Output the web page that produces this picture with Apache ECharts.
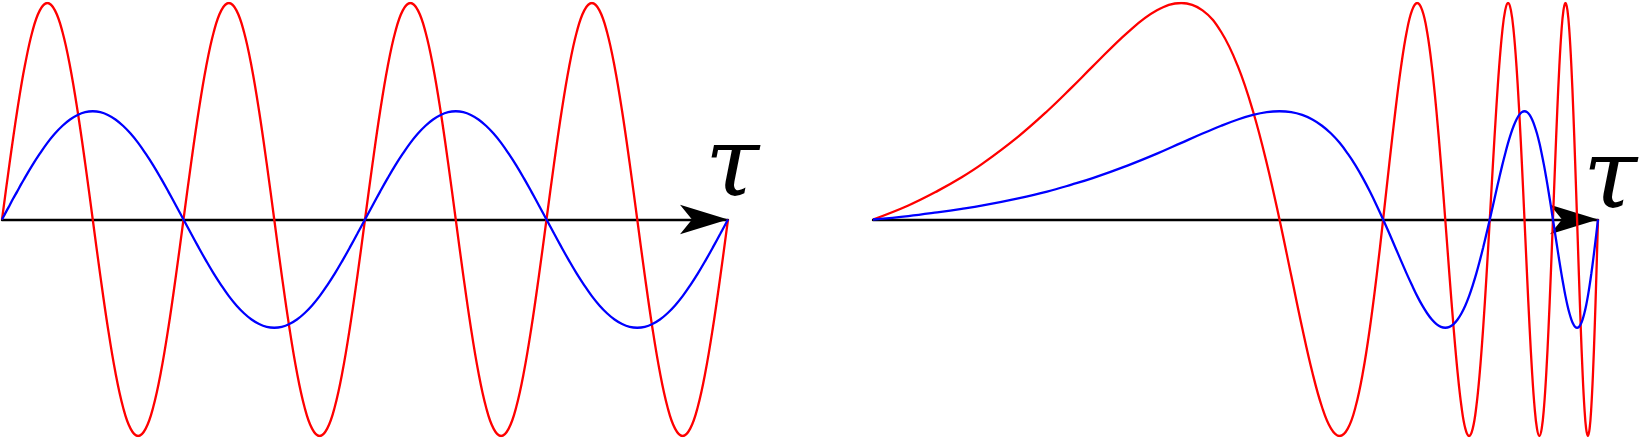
<head>
    <meta charset="utf-8">
    <title>tau</title>
    <script src="https://cdn.jsdelivr.net/npm/echarts@6/dist/echarts.min.js"></script>
    <style>
        html, body { margin: 0; padding: 0; background: #fff; }
    </style>
</head>

<body>
    <div id="main" style="width: 1644px; height: 441px;"></div>

    <script type="text/javascript">

        // sample positions along tau (left panel linear, right panel log)
        const tau = [1, 1.25, 1.5, 1.75, 2, 2.5, 3, 3.5,
            4, 5, 6, 7, 8, 9, 10, 11, 12, 13, 14, 15, 16, 17, 18, 19, 20,
            21, 22, 23, 24, 25, 26, 27, 28, 29, 30, 31, 32, 33, 34, 35, 36,
            37, 38, 39, 40, 41, 42, 43, 44, 45, 46, 47, 48, 49, 50, 51, 52,
            53, 54, 55, 56, 57, 58, 59, 60, 61, 62, 63, 64, 65, 66, 67, 68,
            69, 70, 71, 72, 73, 74, 75, 76, 77, 78, 79, 80, 81, 82, 83, 84,
            85, 86, 87, 88, 89, 90, 91, 92, 93, 94, 95, 96, 97]

        // red curve
        const red = [0, 0.065, 0.131, 0.195, 0.259, 0.383, 0.5, 0.609,
            0.707, 0.866, 0.966, 1, 0.966, 0.866, 0.707, 0.5, 0.259, 0, -0.259, -0.5, -0.707, -0.866, -0.966, -1, -0.966,
            -0.866, -0.707, -0.5, -0.259, 0, 0.259, 0.5, 0.707, 0.866, 0.966, 1, 0.966, 0.866, 0.707, 0.5, 0.259,
            0, -0.259, -0.5, -0.707, -0.866, -0.966, -1, -0.966, -0.866, -0.707, -0.5, -0.259, 0, 0.259, 0.5, 0.707,
            0.866, 0.966, 1, 0.966, 0.866, 0.707, 0.5, 0.259, 0, -0.259, -0.5, -0.707, -0.866, -0.966, -1, -0.966,
            -0.866, -0.707, -0.5, -0.259, 0, 0.259, 0.5, 0.707, 0.866, 0.966, 1, 0.966, 0.866, 0.707, 0.5, 0.259,
            0, -0.259, -0.5, -0.707, -0.866, -0.966, -1, -0.966, -0.866, -0.707, -0.5, -0.259, 0]

        // blue curve
        const blue = [0, 0.016, 0.033, 0.049, 0.065, 0.098, 0.129, 0.161,
            0.191, 0.25, 0.304, 0.354, 0.397, 0.433, 0.462, 0.483, 0.496, 0.5, 0.496, 0.483, 0.462, 0.433, 0.397, 0.354, 0.304,
            0.25, 0.191, 0.129, 0.065, 0, -0.065, -0.129, -0.191, -0.25, -0.304, -0.354, -0.397, -0.433, -0.462, -0.483, -0.496,
            -0.5, -0.496, -0.483, -0.462, -0.433, -0.397, -0.354, -0.304, -0.25, -0.191, -0.129, -0.065, 0, 0.065, 0.129, 0.191,
            0.25, 0.304, 0.354, 0.397, 0.433, 0.462, 0.483, 0.496, 0.5, 0.496, 0.483, 0.462, 0.433, 0.397, 0.354, 0.304,
            0.25, 0.191, 0.129, 0.065, 0, -0.065, -0.129, -0.191, -0.25, -0.304, -0.354, -0.397, -0.433, -0.462, -0.483, -0.496,
            -0.5, -0.496, -0.483, -0.462, -0.433, -0.397, -0.354, -0.304, -0.25, -0.191, -0.129, -0.065, 0]

        const axisName = 'τ'

        var myChart = echarts.init(document.getElementById('main'), null, { renderer: 'canvas' });

        const redPts = tau.map((t, i) => [t, red[i]])
        const bluePts = tau.map((t, i) => [t, blue[i]])

        const xCommon = {
            min: 1,
            max: 97,
            axisLabel: { show: false },
            axisTick: { show: false },
            splitLine: { show: false },
            axisLine: {
                show: true,
                symbol: ['none', 'arrow'],
                symbolSize: [22, 48],
                symbolOffset: [0, 0],
                lineStyle: { color: '#000', width: 2.4 }
            }
        }
        const yCommon = { type: 'value', min: -1, max: 1, show: false }

        const lineStyle = (c) => ({
            type: 'line',
            showSymbol: false,
            smooth: 0.4,
            animation: false,
            lineStyle: { color: c, width: 2.3 },
            itemStyle: { color: c }
        })

        option = {
            backgroundColor: '#fff',
            animation: false,
            grid: [
                { left: 2, width: 726, top: 3, height: 433 },
                { left: 873, width: 725, top: 3, height: 433 }
            ],
            xAxis: [
                Object.assign({ type: 'value', gridIndex: 0 }, xCommon),
                Object.assign({ type: 'log', logBase: 10, gridIndex: 1 }, xCommon)
            ],
            yAxis: [
                Object.assign({ gridIndex: 0 }, yCommon),
                Object.assign({ gridIndex: 1 }, yCommon)
            ],
            series: [
                Object.assign(lineStyle('#ff0000'), { xAxisIndex: 0, yAxisIndex: 0, data: redPts }),
                Object.assign(lineStyle('#0000ff'), { xAxisIndex: 0, yAxisIndex: 0, data: bluePts }),
                Object.assign(lineStyle('#ff0000'), { xAxisIndex: 1, yAxisIndex: 1, data: redPts }),
                Object.assign(lineStyle('#0000ff'), { xAxisIndex: 1, yAxisIndex: 1, data: bluePts })
            ],
            graphic: [
                {
                    type: 'text', left: 705, top: 122,
                    style: { text: axisName, font: 'italic 98px "DejaVu Serif"', fill: '#000' }
                },
                {
                    type: 'text', left: 1583, top: 134,
                    style: { text: axisName, font: 'italic 98px "DejaVu Serif"', fill: '#000' }
                }
            ]
        };

        myChart.setOption(option);
    </script>
</body>
